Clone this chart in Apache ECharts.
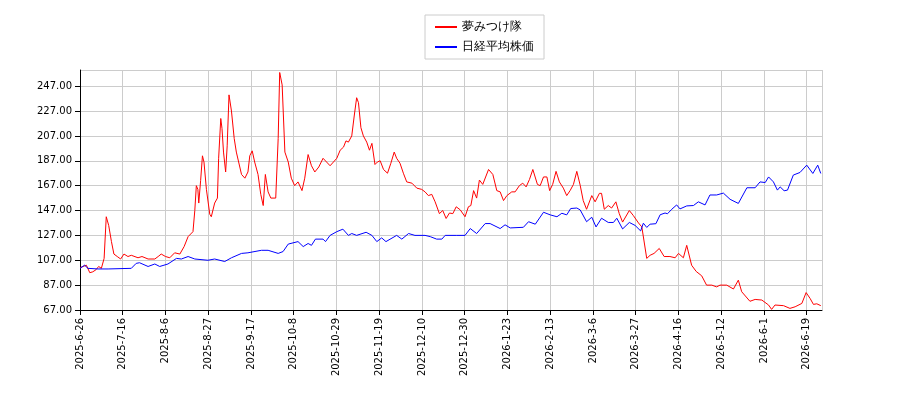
<!DOCTYPE html>
<html>
<head>
<meta charset="utf-8">
<script src="https://cdn.jsdelivr.net/npm/echarts@6/dist/echarts.min.js"></script>
<style>html,body{margin:0;padding:0;background:#fff}#chart{width:900px;height:400px}</style>
</head>
<body>
<div id="chart"></div>
<script>
// trading-day index of each tick and its label
const tickLabels = ['2025-6-26','2025-7-16','2025-8-6','2025-8-27','2025-9-17','2025-10-8','2025-10-29',
  '2025-11-19','2025-12-10','2025-12-30','2026-1-23','2026-2-13','2026-3-6','2026-3-27','2026-4-16',
  '2026-5-12','2026-6-1','2026-6-19'];

// [trading day, price]
const yumeData = [
  [0,101],[1,102],[2.1,103],[3.2,97],[4.2,97.7],[5.3,99.5],[6.1,102],[7,100.5],[7.9,108.5],[8.6,142],
  [9.4,135],[10.3,122],[11.1,112],[12.2,110],[13.3,108],[14.4,112],[15.7,110],[16.8,111],[19,109],
  [20.3,110],[22.3,108],[24.5,108],[25.6,110],[26.6,112],[28,110],[29.4,109],[31,113],[32.7,112],
  [34.1,118],[35.4,126],[37,130],[37.6,147],[38.1,167],[38.6,164],[38.9,153],[39.5,171],[40.1,191],
  [40.6,186],[41.4,164],[42.5,144],[43,142],[44.1,153],[45,157],[45.4,189],[46.1,221],[46.5,213],
  [47,194],[47.7,178],[48.2,199],[48.8,240],[49.6,227],[50.5,205],[51.2,194],[52.9,176],[54,173],
  [55,178],[55.6,191],[56.4,195],[57.2,186],[58.3,176],[59.2,160],[60,151],[60.7,176],[61.6,162],
  [62.5,157],[64.1,157],[64.9,205],[65.4,258],[66.2,248],[67.1,194],[68.2,186],[69.2,173],[70.3,167],
  [71.4,170],[72.7,163],[73.6,173],[74.7,192],[75.8,183],[76.9,178],[78.2,182],[79.6,189],
  [81.9,183],[84.1,189],[85.2,195.5],[86.3,198],[87.1,203],[87.9,202],[89,207],[89.8,223],[90.6,237.7],
  [91.2,233.7],[92,213.6],[92.8,207],[93.9,202],[94.8,195.5],[95.6,201],[96.6,184],[97.4,186],[98.3,187],
  [99.4,180],[100.7,177],[101.8,185],[102.9,194],[103.7,189],[104.8,185],[105.9,177],[107,170],
  [108.7,169],[110.3,165],[111.9,164],[113,162],[114.1,159],[115.2,160],[116.3,154],[117.7,144.5],
  [118.8,147],[119.9,140.6],[121,145],[122.1,144.5],[123.2,150],[124.5,147.6],[126.1,142],[127.2,150],
  [128,151],[128.9,163],[129.9,157],[130.8,171.5],[131.9,168],[133.8,180],[135.2,176],[136.5,163],
  [137.6,162],[138.7,155],[139.8,159],[141.4,162],[142.5,162],[143.9,167],[145,169],[146.1,166],
  [147.2,172],[148.3,180],[148.9,179],[149.8,168],[150.7,167],[151.8,174],[152.9,174],[153.8,163],
  [154.8,168],[155.9,178.5],[157,170],[158.3,165],[159.4,159],[160.5,163],[161.6,168],[162.7,178.5],
  [163.8,167.4],[164.8,155],[165.9,148],[167.6,159],[168.7,154],[170.1,160.8],[170.8,160.8],[171.7,148],
  [173,151],[174.1,149],[175.5,154],[176.6,144.5],[177.7,137.7],[179.9,147],[181.2,143],[182.9,137],
  [184,133.8],[185.6,108.5],[186.7,111],[188,112.5],[189.7,116.5],[191.3,110],[193.2,110],[194.9,109],
  [196,112.5],[197.6,109],[198.7,119],[200.3,103],[201.8,98],[203.6,94.5],[205.2,87],[206.9,87],
  [208.5,85.6],[209.6,87],[211.8,87],[214,83.9],[215.6,91],[216.7,81.7],[219.4,74],[221.1,75.5],
  [223.3,75],[225.5,71],[226.5,67.5],[227.6,71],[230.4,70.5],[232.5,68.3],[234.2,69.6],[236.4,72.3],
  [237.8,81],[239.1,76.3],[240.2,71.5],[241.3,72],[242.6,70.5]
];

const nikkeiData = [
  [0,100.5],[1.5,103],[2.6,100.5],[5.9,100],[9.2,100],[16.8,100.5],[18.4,104.5],[19.5,105],[22.3,102],
  [24.5,104],[26.1,102],[28.8,104],[31.6,108.5],[33.2,108],[35.4,110],[37.6,108],[41.9,107],[44.1,108],
  [47.4,106],[49.6,109],[52.9,112.5],[55,113],[59.4,115],[61.6,115],[64.9,112.5],[66.5,114],[68.2,120],
  [71.4,122],[73.1,118],[74.7,120.5],[75.8,119],[77.1,124],[79.6,124],[80.4,122],
  [81.9,127],[84.1,130],[86.1,132],[87.9,127],[89,128.5],[90.6,127],[93.7,129.5],[95.6,127],[97.2,122],
  [98.8,125],[100.2,122],[103.7,127],[105.4,124],[107.6,128.5],[109.7,127],[113,127],[114.7,126],
  [116.8,124],[118.5,124],[119.6,127],[123.4,127],[126.1,127],[127.8,132.5],[129.9,128.5],[132.7,136.5],
  [134.3,136.5],[137.6,132.5],[139.2,135.5],[140.9,133],[145.2,133.5],[146.9,138],[149.1,136],
  [151.8,145.6],[154,143.5],[156.2,142],[157.8,144.8],[159.4,143.5],[160.7,148.6],[162.7,149],
  [163.8,147.5],[165.9,138],[167.6,141.6],[169,133.8],[170.8,140.8],[173,137.4],[174.7,137.4],
  [175.8,140.8],[177.7,132.2],[179.9,137.4],[181.8,135],[183.6,130.6],[184.5,136.8],[185.6,133.4],
  [186.7,136],[188.6,136.4],[190,143.6],[191.6,145],[192.4,144.4],[193.8,148],[195.4,151.5],[196.5,148.3],
  [198.7,150.7],[200.9,151],[202.5,154],[204.7,151.5],[206.3,159.5],[208.5,159.5],[210.7,161],
  [212.9,156],[215.6,152.7],[218.4,165.3],[221.1,165.3],[222.7,170],[224.4,169.5],[225.5,174],
  [227.1,170],[228.4,163.4],[229.3,166],[230.6,162.9],[231.7,163.4],[233.6,175.5],[235.8,177.6],
  [238,183.5],[240,176.8],[240.5,176],[241.6,183.5],[242.6,176.8]
];

const chart = echarts.init(document.getElementById('chart'));
chart.setOption({
  animation: false,
  textStyle: {fontFamily: 'DejaVu Sans'},
  legend: {
    top: 15, left: 425, orient: 'vertical',
    borderColor: '#ccc', borderWidth: 1, padding: [6, 10],
    itemWidth: 22, itemHeight: 2, itemGap: 8,
    textStyle: {fontSize: 12, color: '#000'},
    data: [{name: '夢みつけ隊', icon: 'rect'}, {name: '日経平均株価', icon: 'rect'}]
  },
  grid: {left: 80, right: 78, top: 70, bottom: 90},
  xAxis: {
    type: 'value', min: 0, max: 243, interval: 14,
    axisLine: {lineStyle: {color: '#000'}},
    axisTick: {lineStyle: {color: '#000'}},
    splitLine: {lineStyle: {color: '#ccc'}},
    axisLabel: {rotate: 90, fontSize: 10, color: '#000', showMaxLabel: false,
      formatter: v => tickLabels[Math.round(v / 14)] || ''}
  },
  yAxis: {
    type: 'value', min: 67, max: 260, interval: 20,
    axisLine: {show: true, lineStyle: {color: '#000'}},
    axisTick: {show: true, lineStyle: {color: '#000'}},
    splitLine: {lineStyle: {color: '#ccc'}},
    axisLabel: {fontSize: 10, color: '#000', showMaxLabel: false, formatter: v => v.toFixed(2)}
  },
  series: [
    {name: '夢みつけ隊', type: 'line', data: yumeData, showSymbol: false,
     color: '#ff0000', lineStyle: {width: 1}},
    {name: '日経平均株価', type: 'line', data: nikkeiData, showSymbol: false,
     color: '#0000ff', lineStyle: {width: 1}}
  ]
});
</script>
</body>
</html>
